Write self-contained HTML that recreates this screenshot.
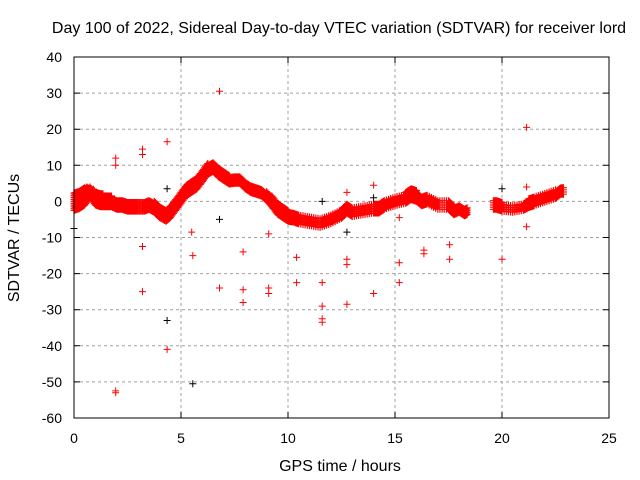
<!DOCTYPE html>
<html><head><meta charset="utf-8"><style>
body{margin:0;background:#fff}
svg{display:block;font-family:"Liberation Sans",sans-serif}
</style></head><body>
<svg id="c" width="640" height="480">
<text x="339" y="33" font-size="16" text-anchor="middle">Day 100 of 2022, Sidereal Day-to-day VTEC variation (SDTVAR) for receiver lord</text>
<text x="340" y="471" font-size="16" text-anchor="middle">GPS time / hours</text>
<text transform="translate(19,238) rotate(-90)" font-size="16" text-anchor="middle">SDTVAR / TECUs</text>
<g id="grid"></g>
<g id="ticks"></g>
<g id="marks"></g>
<rect x="74" y="57" width="535" height="361" fill="none" stroke="#000" stroke-width="1"/>
</svg>
<script>
const xTicks=[0,5,10,15,20,25];
const yTicks=[40,30,20,10,0,-10,-20,-30,-40,-50,-60];
// dense band: hours, centre value, half-thickness
const bandHours=[0,0.25,0.5,0.75,1.0,1.25,1.5,1.75,2.0,2.25,2.5,2.75,3.0,3.3,3.5,3.75,4.0,4.3,4.5,4.75,5.0,5.25,5.5,5.75,6.0,6.25,6.5,6.75,7.0,7.25,7.5,7.75,8.0,8.25,8.5,8.75,9.0,9.25,9.5,9.75,10.0,10.25,10.5,11.0,11.5,12.0,12.5,12.75,13.0,13.5,14.0,14.25,14.5,15.0,15.5,15.75,16.0,16.25,16.5,17.0,17.5,17.75,18.0,18.25,18.4];
const bandValues=[0,0.5,1.5,2.5,1,0.5,0,0,-1,-1,-1.5,-1.5,-1.5,-1.5,-1,-1.5,-3,-4,-3,-1,1,3,4,5,7,9,9.5,8,7,6,6,6,4.5,3.5,3,2.5,1.5,0,-2,-3,-4,-4.5,-5,-5.5,-6,-5,-3.5,-2,-3,-2.5,-2,-2,-1,0,1,2,1.5,0,0.5,-1,-1,-2.5,-2,-3,-2.5];
const bandSpread=[2.5,2.5,2.5,1.5,2,2,1.5,1.5,1.2,1.2,1.2,1.2,1.2,1.2,1.2,1.5,1.5,1.5,1.5,1.5,1.5,1.5,1.5,1.5,1.5,1.5,1.2,1.2,1.2,1.2,1,1,1,1,1,1,1.2,1.5,1.5,1.5,1.5,1.2,1.2,1.2,1.2,1.2,1.2,1.2,1.2,1.2,1.2,1.2,1.2,1.2,1.5,1.5,1.5,1.2,1.2,1.2,1.2,1.2,1,1,1];
const band2Hours=[19.6,19.75,20.0,20.5,21.0,21.25,21.5,22.0,22.5,22.75,22.9];
const band2Values=[-1,-1,-1.5,-2,-1.5,-0.5,0,1,2,3,3];
const band2Spread=[1.2,1.2,1.2,1,1,1.2,1.2,1.2,1.2,1,1];
const outHours=[1.95,1.95,1.95,1.95,3.2,3.2,3.2,3.2,4.35,4.35,5.5,5.55,6.8,6.8,7.9,7.9,7.9,9.1,9.1,9.1,10.4,10.4,11.6,11.6,11.6,11.6,12.75,12.75,12.75,14,15.2,15.2,16.35,16.35,17.55,17.55,21.15,21.15,21.15,14,12.75,15.2,20];
const outValues=[12,10,-52.5,-53,14.5,13,-12.5,-25,16.5,-41,-8.5,-15,30.5,-24,-14,-24.5,-28,-9,-24,-25.5,-15.5,-22.5,-22.5,-29,-32.5,-33.5,-16,-17.5,-28.5,-25.5,-17,-22.5,-13.5,-14.5,-12,-16,20.5,4,-7,4.5,2.5,-4.5,-16];
const blackHours=[0,4.35,4.35,5.55,6.8,20,11.6,12.75,14];
const blackValues=[-7.5,3.5,-33,-50.5,-5,3.5,0,-8.5,1];
const X=v=>74+v*535/25, Y=v=>57+(40-v)*361/100;
const NS='http://www.w3.org/2000/svg';
const mk=(p,t,a)=>{const e=document.createElementNS(NS,t);for(const k in a)e.setAttribute(k,a[k]);p.appendChild(e);return e;};
const grid=document.getElementById('grid'),ticks=document.getElementById('ticks'),marks=document.getElementById('marks');
xTicks.forEach(t=>{const x=X(t);
 if(t>0&&t<25){const l=mk(grid,'line',{x1:x,x2:x,y1:57,y2:418,stroke:'#a0a0a0','stroke-dasharray':'3,3'});}
 const tk=mk(ticks,'path',{d:`M${x} 418v-6M${x} 57v6`,stroke:'#000'});
 const tx=mk(ticks,'text',{x:x,y:443,'font-size':14,'text-anchor':'middle'});tx.textContent=t;});
yTicks.forEach(t=>{const y=Y(t);
 if(t<40&&t>-60){const l=mk(grid,'line',{x1:74,x2:609,y1:y,y2:y,stroke:'#a0a0a0','stroke-dasharray':'3,3'});}
 const tk=mk(ticks,'path',{d:`M74 ${y}h6M609 ${y}h-6`,stroke:'#000'});
 const tx=mk(ticks,'text',{x:62,y:y+5,'font-size':14,'text-anchor':'end'});tx.textContent=t;});
function cross(x,y){return `M${(x-3.5).toFixed(1)} ${y.toFixed(1)}h7M${x.toFixed(1)} ${(y-3.5).toFixed(1)}v7`;}
function bandPath(H,V,S){let d='';for(let i=0;i<H.length-1;i++){for(let f=0;f<1;f+=0.2){const h=H[i]+(H[i+1]-H[i])*f,v=V[i]+(V[i+1]-V[i])*f,s=S[i]+(S[i+1]-S[i])*f;for(let o=-s;o<=s+0.01;o+=0.6)d+=cross(X(h),Y(v+o));}}return d;}
let p=mk(marks,'path',{d:bandPath(bandHours,bandValues,bandSpread),stroke:'#f00','stroke-width':1.2,fill:'none'});

p=mk(marks,'path',{d:bandPath(band2Hours,band2Values,band2Spread),stroke:'#f00','stroke-width':1.2,fill:'none'});

p=mk(marks,'path',{d:outHours.map((h,i)=>cross(X(h),Y(outValues[i]))).join(''),stroke:'#f00',fill:'none'});

p=mk(marks,'path',{d:blackHours.map((h,i)=>cross(X(h),Y(blackValues[i]))).join(''),stroke:'#000',fill:'none'});

</script>
</body></html>
